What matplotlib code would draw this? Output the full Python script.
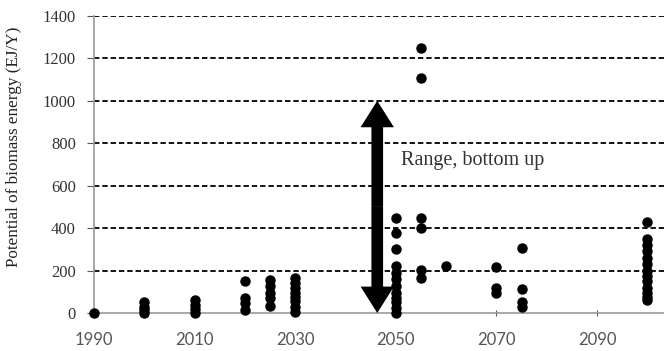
import matplotlib
matplotlib.use("Agg")
import matplotlib.pyplot as plt

# years and potential values (EJ/Y)
years = [1990, 2000, 2010, 2020, 2025, 2030, 2050, 2055, 2060, 2070, 2075, 2100]
values = [
    [0],
    [0, 15, 30, 50],
    [0, 20, 40, 60],
    [15, 45, 70, 150],
    [35, 70, 95, 125, 155],
    [5, 30, 55, 75, 95, 120, 140, 165],
    [0, 25, 50, 72, 95, 125, 160, 190, 220, 300, 375, 450],
    [165, 205, 400, 450, 1110, 1250],
    [220],
    [95, 120, 215],
    [30, 50, 115, 305],
    [60, 75, 95, 120, 150, 175, 200, 230, 260, 290, 320, 350, 430],
]
yticks = [0, 200, 400, 600, 800, 1000, 1200, 1400]
xticks = [1990, 2010, 2030, 2050, 2070, 2090]
range_year = 2046.3
range_lo, range_hi = 0, 1000

fig = plt.figure(figsize=(6.64, 3.51), dpi=100)
ax = fig.add_axes([0.1416, 0.1083, 0.8584, 0.8461])

for yr, vals in zip(years, values):
    ax.plot([yr] * len(vals), vals, "o", color="black", ms=6.5, clip_on=False, zorder=3)

ax.set_xlim(1990, 2103.3)
ax.set_ylim(0, 1400)
ax.set_yticks(yticks)
ax.set_xticks(xticks)

for y in yticks[1:]:
    ax.axhline(y, color="black", lw=1.3, ls=(0, (3, 1.6)), zorder=1)

# double headed arrow drawn as two halves from the middle
mid = (range_lo + range_hi) / 2
style = "simple,head_width=1.2,head_length=0.95,tail_width=0.42"
for end in [range_hi, range_lo]:
    ax.annotate("", xy=(range_year, end), xytext=(range_year, mid),
                arrowprops=dict(arrowstyle=style, mutation_scale=20, color="black",
                                lw=0, shrinkA=0, shrinkB=0), zorder=4)
ax.text(2051.1, 720, "Range, bottom up", fontsize=14.5, family="Liberation Serif",
        color="#333333", va="center", ha="left")

ax.set_ylabel("Potential of biomass energy (EJ/Y)", fontsize=12.3,
              family="Liberation Serif", color="#222222")
ax.yaxis.set_label_coords(-0.127, 0.56)

for s in ["top", "right"]:
    ax.spines[s].set_visible(False)
ax.spines["left"].set_color("#999999")
ax.spines["bottom"].set_color("#999999")
ax.spines["left"].set_linewidth(1.2)
ax.spines["bottom"].set_linewidth(1.2)

ax.tick_params(axis="y", length=5, color="#555555", labelsize=12, pad=8, labelcolor="#333333")
ax.tick_params(axis="x", length=4, direction="inout", color="#555555", labelsize=12,
               pad=12, labelcolor="#555555")
for lab in ax.get_yticklabels():
    lab.set_family("Liberation Serif")
for lab in ax.get_xticklabels():
    lab.set_family("Lato")

fig.savefig("out.png", dpi=100)
